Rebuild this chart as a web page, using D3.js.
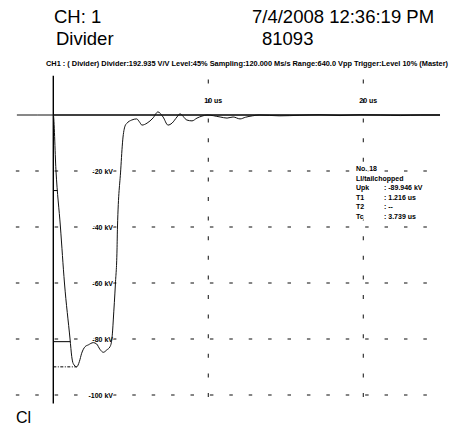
<!DOCTYPE html>
<html><head><meta charset="utf-8">
<script src="https://cdn.jsdelivr.net/npm/d3@7"></script>
<style>html,body{margin:0;padding:0;background:#fff}svg{display:block}</style>
</head><body>
<svg id="chart" width="473" height="428"></svg>
<script>
// Recorded impulse, chopped on the tail (time in µs, voltage in kV)
const timeUs = [-2.35, -1.0, 0, 0.17, 0.46, 0.72, 1.08, 1.19, 1.28, 1.51, 1.68, 1.83, 2.05, 2.26, 2.58, 2.80, 3.01, 3.23, 3.45, 3.66, 3.77, 3.83, 3.87, 4.01, 4.11, 4.14, 4.35, 4.48, 4.63, 4.74, 5.06, 5.38, 5.55, 5.72, 6.05, 6.43, 6.75, 7.08, 7.40, 7.66, 7.98, 8.17, 8.62, 8.95, 9.27, 9.59, 9.92, 10.76, 11.21, 11.60, 12.05, 12.40, 12.85, 13.30, 14.60, 15.90, 17.20, 18.50, 19.80, 21.10, 22.40, 23.70, 24.95];
const voltKV = [0, 0, 0, -19.6, -40, -60, -80, -86.3, -88.7, -89.946, -88.1, -85.1, -82.75, -82.1, -81.3, -81.8, -83.7, -84.75, -83.9, -82.75, -80.4, -76.8, -73.2, -60, -48.2, -40, -19.6, -8.9, -3.9, -3.0, -1.8, -1.4, -2.4, -3.6, -2.9, -1.1, 1.1, -0.7, -3.6, -2.9, -0.7, 0.4, -1.8, -2.1, -1.1, -0.4, 0, -0.7, -1.1, -0.7, -1.4, -0.8, -0.3, 0, -0.3, -0.1, 0.1, -0.2, 0.1, 0, -0.2, 0, 0];

const kvTicks = [-20, -40, -60, -80, -100];
const kvTickLabels = ["-20 kV", "-40 kV", "-60 kV", "-80 kV", "-100 kV"];
const timeTicks = [10, 20];
const timeTickLabels = ["10 us", "20 us"];

const headerLeft = ["CH: 1", "Divider"];
const headerRight = ["7/4/2008 12:36:19 PM", "81093"];
const infoLine = "CH1 : ( Divider)  Divider:192.935 V/V  Level:45%  Sampling:120.000 Ms/s  Range:640.0 Vpp  Trigger:Level 10%  (Master)";
const footerText = "Cl";

const resultTitle = ["No. 18", "LI/tailchopped"];
const resultNames = ["Upk", "T1", "T2", "Tc"];
const resultValues = [": -89.946 kV", ": 1.216 us", ": --", ": 3.739 us"];
const peakKV = -89.946;
const levelFractions = [0.3, 0.9];

const svg = d3.select("#chart");
const x = d3.scaleLinear().domain([0, 20]).range([53.3, 363.3]);
const y = d3.scaleLinear().domain([0, -100]).range([115, 395]);

const font = "'Liberation Sans', Arial, sans-serif";

// Header
svg.append("g").selectAll("text").data(headerLeft).join("text")
  .attr("x", (d, i) => i ? 56 : 54).attr("y", (d, i) => i ? 45 : 23)
  .attr("font-family", font).attr("font-size", 18.5).text(d => d);
svg.append("g").selectAll("text").data(headerRight).join("text")
  .attr("x", (d, i) => i ? 262 : 252).attr("y", (d, i) => i ? 45 : 23)
  .attr("font-family", font).attr("font-size", 18.5).text(d => d);
svg.append("text").attr("x", 46).attr("y", 66)
  .attr("font-family", font).attr("font-size", 7).attr("font-weight", "bold")
  .attr("textLength", 402).attr("lengthAdjust", "spacingAndGlyphs").text(infoLine);
svg.append("text").attr("x", 16).attr("y", 423)
  .attr("font-family", font).attr("font-size", 16).text(footerText);

// Dotted grid: short horizontal dashes along each kV level
const rowSteps = d3.range(0, 22).map(k => -2.32 + 1.252 * k);
const grid = svg.append("g").attr("stroke", "#222").attr("stroke-width", 1.1);
kvTicks.forEach(kv => {
  grid.append("g").selectAll("line").data(rowSteps).join("line")
    .attr("x1", d => x(d) - 1.5).attr("x2", d => x(d) + 2)
    .attr("y1", y(kv)).attr("y2", y(kv));
});
// short vertical dashes along each time gridline
const colSteps = d3.range(0, 17).map(k => -100 + 7 * k);
timeTicks.forEach(t => {
  grid.append("g").selectAll("line").data(colSteps).join("line")
    .attr("x1", x(t)).attr("x2", x(t))
    .attr("y1", d => y(d) - 2).attr("y2", d => y(d) + 2);
});

// Axes: zero level and time origin
svg.append("line").attr("x1", x(0)).attr("x2", x(24.95))
  .attr("y1", y(0)).attr("y2", y(0)).attr("stroke", "#000").attr("stroke-width", 1.3);
svg.append("line").attr("x1", x(0)).attr("x2", x(0))
  .attr("y1", y(14)).attr("y2", y(-103)).attr("stroke", "#000").attr("stroke-width", 1.4);

// Axis labels
const halo = sel => sel.attr("stroke", "#fff").attr("stroke-width", 2).attr("paint-order", "stroke");
svg.append("g").selectAll("text").data(kvTicks).join("text")
  .attr("x", x(3.85)).attr("y", d => y(d) + 2.5).attr("text-anchor", "end")
  .attr("font-family", font).attr("font-size", 7).attr("font-weight", "bold")
  .call(halo).attr("fill", "#000")
  .text((d, i) => kvTickLabels[i]);
svg.append("g").selectAll("text").data(timeTicks).join("text")
  .attr("x", d => x(d) - 4).attr("y", 102.5)
  .attr("font-family", font).attr("font-size", 7).attr("font-weight", "bold")
  .text((d, i) => timeTickLabels[i]);

// Front crossing of a level, interpolated from the record
function frontTime(kv) {
  for (let i = 1; i < timeUs.length; i++) {
    const a = voltKV[i - 1], b = voltKV[i];
    if (timeUs[i] >= 0 && a > kv && b <= kv) {
      return timeUs[i - 1] + (kv - a) / (b - a) * (timeUs[i] - timeUs[i - 1]);
    }
  }
  return 0;
}
// 30 % and 90 % levels, peak level
svg.append("g").selectAll("line").data(levelFractions).join("line")
  .attr("x1", x(0)).attr("x2", d => x(frontTime(peakKV * d)))
  .attr("y1", d => y(peakKV * d)).attr("y2", d => y(peakKV * d))
  .attr("stroke", "#000").attr("stroke-width", 1);
const peakIdx = voltKV.indexOf(peakKV);
svg.append("line").attr("x1", x(0)).attr("x2", x(timeUs[peakIdx]))
  .attr("y1", y(peakKV)).attr("y2", y(peakKV))
  .attr("stroke", "#000").attr("stroke-width", 1).attr("stroke-dasharray", "3,1.5,1,1.5");

// Waveform
const line = d3.line().x((d, i) => x(timeUs[i])).y(d => y(d)).curve(d3.curveMonotoneX);
svg.append("path").attr("d", line(voltKV))
  .attr("fill", "none").attr("stroke", "#111").attr("stroke-width", 1);

// Evaluation results
const res = svg.append("g").attr("font-family", font).attr("font-size", 7).attr("font-weight", "bold");
res.selectAll("text.t").data(resultTitle).join("text").attr("class", "t")
  .attr("x", 356).attr("y", (d, i) => 171 + i * 9.5).call(halo).attr("fill", "#000").text(d => d);
res.selectAll("text.n").data(resultNames).join("text").attr("class", "n")
  .attr("x", 356).attr("y", (d, i) => 171 + (i + 2) * 9.5).call(halo).attr("fill", "#000").text(d => d);
res.selectAll("text.v").data(resultValues).join("text").attr("class", "v")
  .attr("x", 384).attr("y", (d, i) => 171 + (i + 2) * 9.5).call(halo).attr("fill", "#000").text(d => d);
</script>
</body></html>
